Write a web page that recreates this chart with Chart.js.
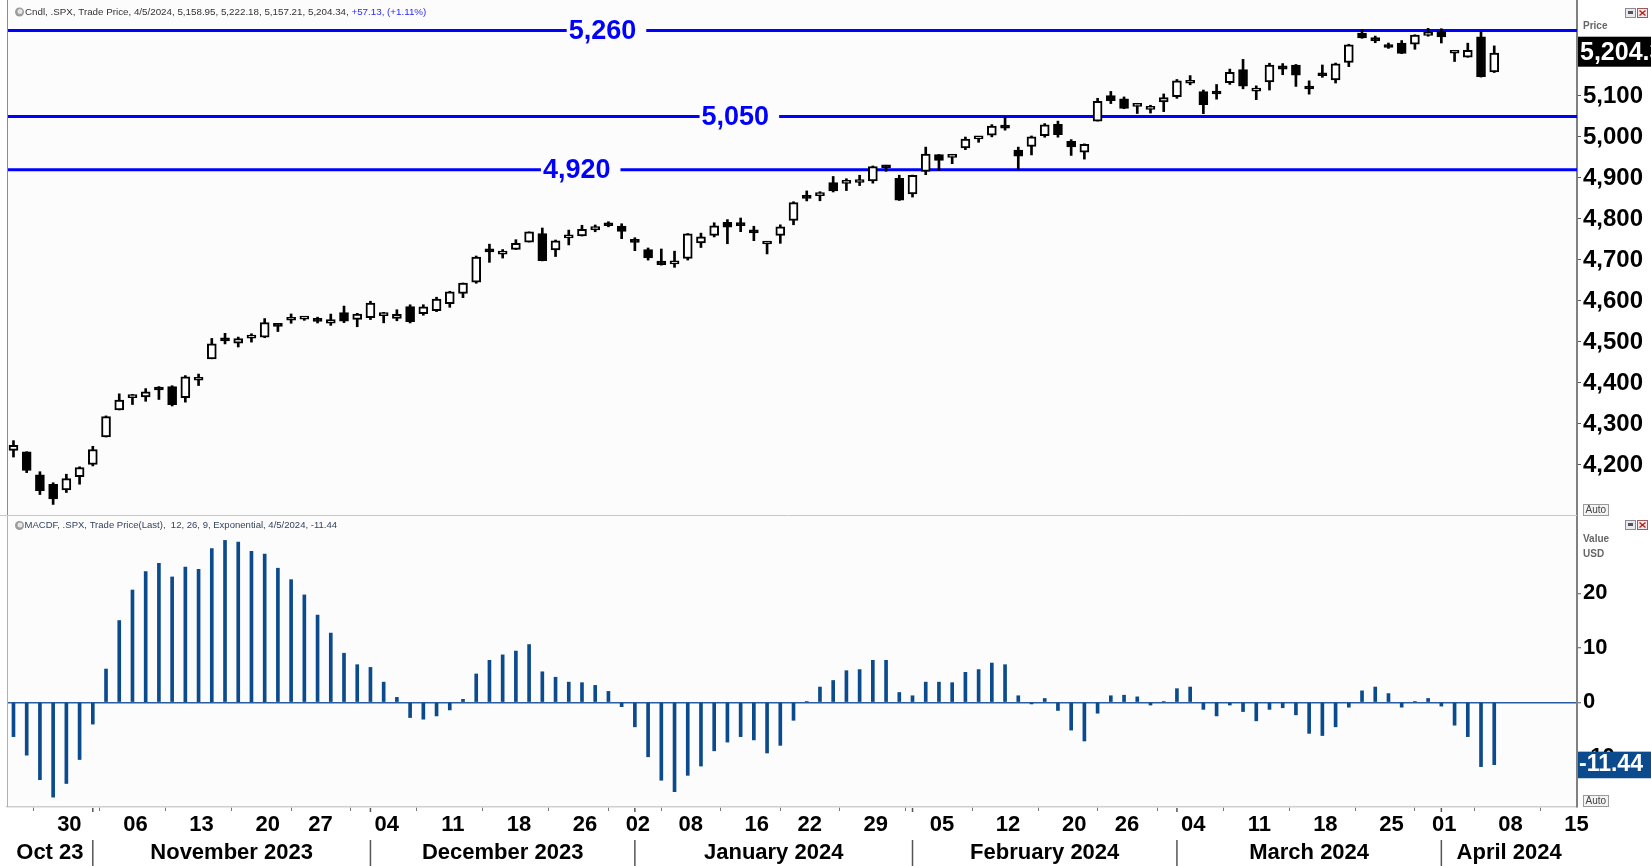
<!DOCTYPE html>
<html><head><meta charset="utf-8">
<script src="https://cdn.jsdelivr.net/npm/chart.js"></script>
<style>
html,body{margin:0;padding:0;background:#fff;width:1651px;height:866px;overflow:hidden}
canvas{position:absolute;left:0;display:block}
#c1{top:0}
#c2{top:516px}
</style></head><body>
<canvas id="c1" width="1651" height="516"></canvas>
<canvas id="c2" width="1651" height="350"></canvas>
<script>
// ---------------- DATA ----------------
const dates = ['2023-10-24','2023-10-25','2023-10-26','2023-10-27','2023-10-30','2023-10-31',
'2023-11-01','2023-11-02','2023-11-03','2023-11-06','2023-11-07','2023-11-08','2023-11-09','2023-11-10','2023-11-13','2023-11-14','2023-11-15','2023-11-16','2023-11-17','2023-11-20','2023-11-21','2023-11-22','2023-11-24','2023-11-27','2023-11-28','2023-11-29','2023-11-30',
'2023-12-01','2023-12-04','2023-12-05','2023-12-06','2023-12-07','2023-12-08','2023-12-11','2023-12-12','2023-12-13','2023-12-14','2023-12-15','2023-12-18','2023-12-19','2023-12-20','2023-12-21','2023-12-22','2023-12-26','2023-12-27','2023-12-28','2023-12-29',
'2024-01-02','2024-01-03','2024-01-04','2024-01-05','2024-01-08','2024-01-09','2024-01-10','2024-01-11','2024-01-12','2024-01-16','2024-01-17','2024-01-18','2024-01-19','2024-01-22','2024-01-23','2024-01-24','2024-01-25','2024-01-26','2024-01-29','2024-01-30','2024-01-31',
'2024-02-01','2024-02-02','2024-02-05','2024-02-06','2024-02-07','2024-02-08','2024-02-09','2024-02-12','2024-02-13','2024-02-14','2024-02-15','2024-02-16','2024-02-20','2024-02-21','2024-02-22','2024-02-23','2024-02-26','2024-02-27','2024-02-28','2024-02-29',
'2024-03-01','2024-03-04','2024-03-05','2024-03-06','2024-03-07','2024-03-08','2024-03-11','2024-03-12','2024-03-13','2024-03-14','2024-03-15','2024-03-18','2024-03-19','2024-03-20','2024-03-21','2024-03-22','2024-03-25','2024-03-26','2024-03-27','2024-03-28',
'2024-04-01','2024-04-02','2024-04-03','2024-04-04','2024-04-05'];

const open = [4235.8,4232.4,4176.0,4152.9,4139.4,4171.3,
4201.3,4268.3,4334.2,4364.3,4366.2,4384.4,4391.4,4364.2,4406.7,4459.0,4505.3,4497.1,4509.6,4511.7,4538.8,4553.0,4555.8,4554.9,4545.6,4571.8,4554.9,
4559.4,4564.4,4557.3,4586.2,4568.8,4576.2,4593.4,4618.3,4646.2,4721.0,4714.2,4725.6,4743.7,4764.7,4724.3,4753.9,4758.9,4773.5,4786.4,4782.9,
4745.2,4725.1,4697.4,4690.6,4703.7,4741.9,4759.9,4792.1,4791.2,4772.4,4739.1,4760.1,4796.3,4853.4,4856.8,4888.6,4886.7,4888.9,4893.0,4925.9,4899.2,
4861.1,4916.1,4957.2,4950.2,4973.1,4995.2,5004.2,5026.8,4967.9,4976.8,5003.1,5031.1,4989.3,4963.0,5038.8,5100.9,5093.0,5074.6,5067.2,5085.4,
5098.5,5131.0,5110.5,5108.0,5132.4,5164.5,5112.0,5134.3,5173.5,5175.1,5123.3,5154.8,5139.1,5181.7,5253.4,5242.5,5219.5,5228.9,5226.3,5248.0,
5258.0,5204.3,5194.4,5244.1,5158.95];
const high = [4259.4,4232.4,4183.6,4156.7,4177.5,4195.6,
4245.6,4319.7,4373.6,4372.2,4386.3,4391.2,4393.4,4418.0,4421.8,4508.7,4521.2,4512.0,4520.1,4557.1,4542.1,4568.4,4560.3,4560.5,4568.1,4587.6,4569.9,
4599.4,4572.4,4578.6,4590.7,4590.9,4609.2,4623.7,4643.9,4709.7,4738.6,4725.5,4749.5,4768.7,4778.0,4748.7,4772.9,4784.7,4785.4,4793.3,4788.4,
4754.3,4729.3,4726.8,4721.5,4764.5,4765.5,4790.8,4798.5,4802.4,4782.3,4744.2,4785.8,4842.1,4868.4,4866.5,4903.7,4898.2,4906.7,4929.3,4931.1,4906.8,
4907.0,4975.3,4957.2,4957.8,4999.9,5000.4,5030.1,5048.4,4975.3,5002.5,5032.7,5038.7,4993.6,4983.2,5094.4,5111.1,5097.7,5080.7,5077.4,5105.0,
5140.3,5149.7,5114.5,5128.0,5165.6,5189.3,5124.7,5179.9,5179.1,5176.9,5136.9,5175.6,5180.3,5226.2,5261.1,5246.1,5229.1,5235.2,5249.3,5264.9,
5264.0,5208.3,5228.8,5256.6,5222.18];
const low = [4219.4,4181.4,4127.9,4103.8,4132.9,4153.1,
4197.7,4268.3,4334.2,4347.5,4355.4,4359.8,4343.9,4353.3,4393.8,4459.0,4495.3,4487.8,4499.7,4510.4,4525.5,4545.7,4552.8,4546.3,4540.5,4547.2,4537.2,
4554.7,4546.7,4551.7,4546.5,4565.2,4574.1,4584.6,4608.1,4643.2,4694.3,4704.7,4725.6,4743.7,4697.8,4708.4,4736.8,4758.5,4768.9,4781.0,4752.0,
4722.7,4699.7,4687.5,4682.1,4699.8,4730.4,4756.2,4739.6,4769.0,4747.1,4714.8,4740.6,4785.9,4844.1,4844.4,4865.9,4869.3,4881.5,4887.4,4916.3,4845.2,
4853.5,4908.0,4918.1,4934.9,4969.1,4987.1,5000.3,5016.7,4920.3,4956.2,4999.4,4999.5,4955.0,4946.0,5038.8,5081.5,5068.9,5057.3,5058.4,5061.9,
5094.2,5127.2,5056.8,5092.2,5128.2,5117.5,5091.1,5114.5,5151.9,5123.3,5104.4,5145.5,5131.6,5171.6,5240.7,5229.9,5216.1,5203.4,5213.9,5245.8,
5229.2,5184.1,5194.4,5146.1,5157.21];
const close = [4247.7,4186.8,4137.2,4117.4,4166.8,4193.8,
4237.9,4317.8,4358.3,4366.0,4378.4,4382.8,4347.4,4415.2,4411.6,4495.7,4502.9,4508.2,4514.0,4547.4,4538.2,4556.6,4559.3,4550.4,4554.9,4550.6,4567.8,
4594.6,4569.8,4567.2,4549.3,4585.6,4604.4,4622.4,4643.7,4707.1,4719.6,4719.2,4740.6,4768.4,4698.4,4746.8,4754.6,4774.8,4781.6,4783.4,4769.8,
4742.8,4704.8,4688.7,4697.2,4763.5,4756.5,4783.5,4780.2,4783.8,4766.0,4739.2,4780.9,4839.8,4850.4,4864.6,4868.6,4894.2,4891.0,4927.9,4925.0,4845.7,
4906.2,4958.6,4942.8,4954.2,4995.1,4997.9,5026.6,5021.8,4953.2,5000.6,5029.7,5005.6,4975.5,4981.8,5087.0,5088.8,5069.5,5078.2,5069.8,5096.3,
5137.1,5131.0,5078.7,5104.8,5157.4,5123.7,5117.9,5175.3,5165.3,5150.5,5117.1,5149.4,5178.5,5224.6,5241.5,5234.2,5218.2,5203.6,5248.5,5254.4,
5243.8,5205.8,5211.5,5147.21,5204.34];
const macdHist = [-6.3,-9.7,-14.2,-17.4,-14.9,-10.5,-4.0,6.1,15.0,20.6,24.0,25.5,23.0,24.8,24.4,28.2,29.7,29.4,27.7,27.2,24.6,22.5,19.7,16.0,12.7,9.0,6.9,6.4,3.7,0.9,-2.8,-3.1,-2.5,-1.4,0.55,5.2,7.7,8.7,9.4,10.6,5.6,4.6,
3.7,3.6,3.1,2.0,-0.8,-4.5,-10.0,-14.3,-16.4,-13.4,-11.7,-8.9,-7.3,-6.3,-6.9,-9.3,-7.9,-3.3,0.1,2.8,4.0,5.8,6.0,7.7,7.7,1.8,1.2,3.7,3.7,3.6,5.5,6.0,7.2,6.9,1.2,-0.3,0.7,-1.5,-5.1,-7.1,-2.0,
1.2,1.3,1.0,-0.5,0.1,2.5,2.8,-1.3,-2.5,-0.5,-1.7,-3.4,-1.3,-1.0,-2.3,-5.7,-6.1,-4.5,-0.9,2.1,2.8,1.6,-0.9,0.1,0.7,-0.7,-4.2,-6.3,-11.8,-11.44];

const priceTicks = [4200,4300,4400,4500,4600,4700,4800,4900,5000,5100,5200];
const macdTicks = [-10,0,10,20];
const levels = [5260,5050,4920];
const xTickIdx = [4,9,14,19,23,28,33,38,43,47,51,56,60,65,70,75,80,84,89,94,99,104,108,113,118];
const xTickLabels = ['30','06','13','20','27','04','11','18','26','02','08','16','22','29','05','12','20','26','04','11','18','25','01','08','15'];
const monthLabels = ['Oct 23','November 2023','December 2023','January 2024','February 2024','March 2024','April 2024'];

// ---------------- HELPERS ----------------
const X_MIN = -0.49, X_MAX = 118.26;
const FONT = "'Liberation Sans', Arial, sans-serif";
const f0 = v => v.toLocaleString('en-US', {maximumFractionDigits: 0});
const f2 = v => v.toLocaleString('en-US', {minimumFractionDigits: 2, maximumFractionDigits: 2});
const fmtDate = s => { const [y,m,d] = s.split('-'); return `${+m}/${+d}/${y}`; };
const last = dates.length - 1;
const monthStarts = dates.map((d,i)=> i>0 && d.slice(0,7)!==dates[i-1].slice(0,7) ? i : -1).filter(i=>i>=0);

function fitSize(ctx, text, target, weight) {
  ctx.font = `${weight} 100px ${FONT}`;
  return 100 * target / ctx.measureText(text).width;
}
function drawIcons(ctx, x, y) {
  ctx.save();
  ctx.fillStyle = '#e8e8ee'; ctx.strokeStyle = '#8a8a9a'; ctx.lineWidth = 1;
  ctx.fillRect(x+0.5, y+0.5, 10, 9); ctx.strokeRect(x+0.5, y+0.5, 10, 9);
  ctx.fillStyle = '#555'; ctx.fillRect(x+3, y+3, 5, 3);
  ctx.fillStyle = '#f2e6e6'; ctx.strokeStyle = '#9a5a5a';
  ctx.fillRect(x+12.5, y+0.5, 10, 9); ctx.strokeRect(x+12.5, y+0.5, 10, 9);
  ctx.strokeStyle = '#b02020'; ctx.lineWidth = 1.4;
  ctx.beginPath(); ctx.moveTo(x+14.5, y+2.5); ctx.lineTo(x+20.5, y+7.5); ctx.moveTo(x+20.5, y+2.5); ctx.lineTo(x+14.5, y+7.5); ctx.stroke();
  ctx.restore();
}
function drawAuto(ctx, x, y) {
  ctx.save();
  ctx.fillStyle = '#f4f4f4'; ctx.strokeStyle = '#9a9a9a'; ctx.lineWidth = 1;
  ctx.fillRect(x+0.5, y+0.5, 25, 11); ctx.strokeRect(x+0.5, y+0.5, 25, 11);
  ctx.fillStyle = '#444'; ctx.font = `10px ${FONT}`; ctx.textBaseline = 'middle'; ctx.textAlign = 'left';
  ctx.fillText('Auto', x+2.5, y+6.5);
  ctx.restore();
}
function drawClock(ctx, x, y) {
  ctx.save();
  ctx.fillStyle = '#9c9c9c'; ctx.beginPath(); ctx.arc(x, y, 4.5, 0, Math.PI*2); ctx.fill();
  ctx.fillStyle = '#e6e6e6'; ctx.beginPath(); ctx.arc(x+0.5, y-0.5, 2.5, 0, Math.PI*2); ctx.fill();
  ctx.restore();
}
const bgPlugin = {
  id: 'bg',
  beforeDraw(chart) {
    const {ctx, chartArea: a} = chart;
    ctx.save();
    ctx.fillStyle = '#ffffff'; ctx.fillRect(0, 0, chart.width, chart.height);
    ctx.fillStyle = '#fcfcfc'; ctx.fillRect(a.left, a.top, a.right - a.left, a.bottom - a.top);
    ctx.restore();
  }
};

// ---------------- PRICE CHART ----------------
const up = close.map((c,i) => c >= open[i]);
const bodyData = dates.map((d,i) => ({x: i, y: [open[i], close[i]]}));
const wickData = dates.map((d,i) => ({x: i, y: [low[i], high[i]]}));

const levelPlugin = {
  id: 'levels',
  beforeDatasetsDraw(chart, args, opts) {
    const {ctx, chartArea: a, scales: {x, y}} = chart;
    ctx.save();
    ctx.font = `bold 27px ${FONT}`;
    ctx.textBaseline = 'middle'; ctx.textAlign = 'center';
    levels.forEach((lv, k) => {
      const py = y.getPixelForValue(lv);
      const txt = f0(lv);
      const cx = x.getPixelForValue(opts.labelAt[k]);
      const w = ctx.measureText(txt).width;
      const g0 = cx - w/2 - 2, g1 = cx + w/2 + 10;
      ctx.strokeStyle = '#0000ff'; ctx.lineWidth = 3;
      ctx.beginPath(); ctx.moveTo(a.left, py); ctx.lineTo(g0, py); ctx.moveTo(g1, py); ctx.lineTo(a.right, py); ctx.stroke();
      ctx.fillStyle = '#0000ff';
      ctx.fillText(txt, cx, py + 1);
    });
    ctx.restore();
  }
};
const priceDeco = {
  id: 'priceDeco',
  afterDraw(chart) {
    const {ctx, chartArea: a, scales: {y}} = chart;
    ctx.save();
    // borders
    ctx.strokeStyle = '#8c8c8c'; ctx.lineWidth = 1;
    ctx.beginPath(); ctx.moveTo(a.left + 0.5, 0); ctx.lineTo(a.left + 0.5, a.bottom); ctx.stroke();
    ctx.strokeStyle = '#c8c8c8';
    ctx.beginPath(); ctx.moveTo(0, a.bottom - 0.5); ctx.lineTo(a.right, a.bottom - 0.5); ctx.stroke();
    // header
    drawClock(ctx, 19.5, 12);
    const hA = `Cndl, .SPX, Trade Price, ${fmtDate(dates[last])}, ${f2(open[last])}, ${f2(high[last])}, ${f2(low[last])}, ${f2(close[last])}, `;
    const chg = close[last] - close[last-1];
    const pct = chg / close[last-1] * 100;
    const hB = `${chg>=0?'+':''}${f2(chg)}, (${pct>=0?'+':''}${pct.toFixed(2)}%)`;
    const sz = fitSize(ctx, hA + hB, 402, 'normal');
    ctx.font = `${sz}px ${FONT}`; ctx.textBaseline = 'middle'; ctx.textAlign = 'left';
    ctx.fillStyle = '#333'; ctx.fillText(hA, 25, 12);
    const wA = ctx.measureText(hA).width;
    ctx.fillStyle = '#2a2aff'; ctx.fillText(hB, 25 + wA, 12);
    // right side labels
    ctx.fillStyle = '#666'; ctx.font = `bold 10px ${FONT}`;
    ctx.fillText('Price', 1583, 26);
    drawIcons(ctx, 1625, 8);
    drawAuto(ctx, 1583, 504);
    // last price box
    const yp = y.getPixelForValue(close[last]);
    ctx.fillStyle = '#000';
    ctx.fillRect(a.right + 1, yp - 16.5, chart.width - a.right - 1, 30);
    ctx.beginPath(); ctx.rect(a.right + 1, yp - 16.5, chart.width - a.right - 1, 30); ctx.clip();
    ctx.fillStyle = '#fff'; ctx.font = `bold 25px ${FONT}`; ctx.textBaseline = 'middle';
    ctx.fillText(f2(close[last]), a.right + 3, yp - 0.5);
    ctx.restore();
  }
};

new Chart(document.getElementById('c1'), {
  type: 'bar',
  data: { datasets: [
    { label: 'body', data: bodyData, order: 0, grouped: false, barThickness: 9, minBarLength: 3,
      borderWidth: 2, borderColor: '#000', borderSkipped: false,
      backgroundColor: up.map(u => u ? '#ffffff' : '#000000') },
    { label: 'wick', data: wickData, order: 1, grouped: false, barThickness: 2,
      borderWidth: 0, backgroundColor: '#000' }
  ]},
  options: {
    responsive: false, animation: false, devicePixelRatio: 1,
    layout: {padding: {left: 7, right: 0, top: 0, bottom: 0}},
    plugins: {legend: {display: false}, tooltip: {enabled: false}, levels: {labelAt: [44.55, 54.6, 42.6]}},
    scales: {
      x: {type: 'linear', display: false, min: X_MIN, max: X_MAX, offset: false},
      y: {type: 'linear', position: 'right', min: 4075.6, max: 5334.1,
        afterFit(s) { s.width = 74; s.paddingTop = 0; s.paddingBottom = 0; },
        afterBuildTicks(s) { s.ticks = priceTicks.map(v => ({value: v})); },
        ticks: {callback: v => f0(v), font: {family: FONT, weight: 'bold', size: 24}, color: '#000', padding: 2},
        grid: {drawOnChartArea: false, drawTicks: true, tickLength: 4, tickColor: '#555', tickWidth: 1},
        border: {display: true, color: '#808080', width: 2}}
    }
  },
  plugins: [bgPlugin, levelPlugin, priceDeco]
});

// ---------------- MACD CHART ----------------
const macdDeco = {
  id: 'macdDeco',
  afterDraw(chart) {
    const {ctx, chartArea: a, scales: {x, y}} = chart;
    ctx.save();
    ctx.strokeStyle = '#b0b0b0'; ctx.lineWidth = 1;
    ctx.beginPath(); ctx.moveTo(a.left + 0.5, 0); ctx.lineTo(a.left + 0.5, a.bottom); ctx.stroke();
    // month separators and labels
    const seps = monthStarts.map(i => x.getPixelForValue(i));
    const bounds = [a.left, ...seps, a.right];
    ctx.strokeStyle = '#555'; ctx.lineWidth = 1.5;
    seps.forEach(px => {
      ctx.beginPath(); ctx.moveTo(px, a.bottom + 1); ctx.lineTo(px, a.bottom + 5); ctx.stroke();
      ctx.beginPath(); ctx.moveTo(px, a.bottom + 33); ctx.lineTo(px, chart.height); ctx.stroke();
    });
    ctx.fillStyle = '#000'; ctx.font = `bold 22px ${FONT}`; ctx.textAlign = 'center'; ctx.textBaseline = 'middle';
    monthLabels.forEach((m, k) => {
      ctx.fillText(m, (bounds[k] + bounds[k+1]) / 2, a.bottom + 46);
    });
    // header
    drawClock(ctx, 19.5, 9.5);
    const hdr = `MACDF, .SPX, Trade Price(Last),  12, 26, 9, Exponential, ${fmtDate(dates[last])}, ${f2(macdHist[last])}`;
    const sz = fitSize(ctx, hdr, 313, 'normal');
    ctx.font = `${sz}px ${FONT}`; ctx.textAlign = 'left'; ctx.fillStyle = '#34435e';
    ctx.fillText(hdr, 24.5, 9.5);
    // right labels
    ctx.fillStyle = '#666'; ctx.font = `bold 10px ${FONT}`;
    ctx.fillText('Value', 1583, 23.5);
    ctx.fillText('USD', 1583, 38);
    drawIcons(ctx, 1625, 4);
    drawAuto(ctx, 1583, 279);
    // last value box
    const yp = y.getPixelForValue(macdHist[last]);
    ctx.fillStyle = '#0c4a8e';
    ctx.fillRect(a.right + 1, yp - 13, chart.width - a.right - 1, 26.6);
    ctx.fillStyle = '#fff'; ctx.font = `bold 23px ${FONT}`;
    ctx.fillText(f2(macdHist[last]), a.right + 2, yp + 0.5);
    ctx.restore();
  }
};

new Chart(document.getElementById('c2'), {
  type: 'bar',
  data: { datasets: [
    { label: 'MACD hist', data: macdHist.map((v,i) => ({x: i, y: v})), barThickness: 3,
      borderWidth: 0, backgroundColor: '#0c4a8e', grouped: false }
  ]},
  options: {
    responsive: false, animation: false, devicePixelRatio: 1,
    layout: {padding: {left: 7, right: 0, top: 0, bottom: 0}},
    plugins: {legend: {display: false}, tooltip: {enabled: false}},
    scales: {
      x: {type: 'linear', position: 'bottom', min: X_MIN, max: X_MAX, offset: false,
        afterFit(s) { s.height = 59; s.paddingLeft = 0; s.paddingRight = 0; },
        afterBuildTicks(s) { s.ticks = xTickIdx.map(v => ({value: v})); },
        ticks: {callback: (v, i) => xTickLabels[i], autoSkip: false, maxRotation: 0, minRotation: 0,
          font: {family: FONT, weight: 'bold', size: 22}, color: '#000', padding: 1, labelOffset: 3},
        grid: {drawOnChartArea: false, drawTicks: true, tickLength: 4, tickColor: '#777', tickWidth: 1},
        border: {display: true, color: '#cfcfcf', width: 1.5}},
      y: {type: 'linear', position: 'right', min: -19.21, max: 34.18,
        afterFit(s) { s.width = 74; s.paddingTop = 0; s.paddingBottom = 0; },
        afterBuildTicks(s) { s.ticks = macdTicks.map(v => ({value: v})); },
        ticks: {callback: v => String(v), font: {family: FONT, weight: 'bold', size: 22}, color: '#000', padding: 2},
        grid: {drawOnChartArea: true, drawTicks: true, tickLength: 4, tickColor: '#555', tickWidth: 1,
          color: c => (c.tick && c.tick.value === 0) ? '#2a5d9f' : 'rgba(0,0,0,0)', lineWidth: 1.5},
        border: {display: true, color: '#808080', width: 2}}
    }
  },
  plugins: [bgPlugin, macdDeco]
});
</script>
</body></html>
